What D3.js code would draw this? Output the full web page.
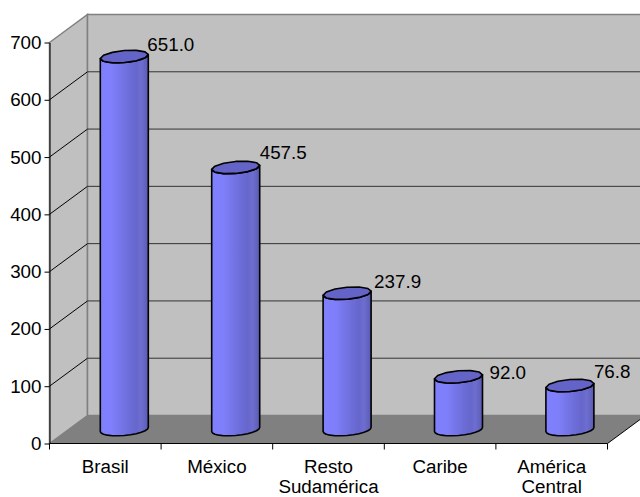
<!DOCTYPE html>
<html>
<head>
<meta charset="utf-8">
<script src="https://cdn.jsdelivr.net/npm/d3@7"></script>
<style>
  body { margin: 0; background: #fff; }
  text { font-family: "Liberation Sans", Arial, sans-serif; fill: #000; }
</style>
</head>
<body>
<svg id="chart" width="640" height="497"></svg>
<script>
const categories = [['Brasil'], ['México'], ['Resto', 'Sudamérica'], ['Caribe'], ['América', 'Central']]
const values = [651.0, 457.5, 237.9, 92.0, 76.8]
const valueLabels = ['651.0', '457.5', '237.9', '92.0', '76.8']
const yTicks = [0, 100, 200, 300, 400, 500, 600, 700]

const svg = d3.select('#chart')

const plotLeft = 49.5, plotRight = 607.5, plotBottom = 443.5, plotTop = 42.5
const depthX = 38, depthY = 28
const fontSize = 18.8

const x = d3.scaleBand().domain(d3.range(categories.length)).range([plotLeft, plotRight])
const y = d3.scaleLinear().domain([0, 700]).range([plotBottom, plotTop])

const grad = svg.append('defs').append('linearGradient').attr('id', 'barFill')
const stops = [[0, '#8080ff'], [0.25, '#7f7ffb'], [0.5, '#7272e2'], [0.75, '#6666cc'], [0.85, '#6e6ed0'], [1, '#5a5ab4']]
stops.forEach(s => grad.append('stop').attr('offset', s[0]).attr('stop-color', s[1]))

const poly = pts => 'M' + pts.map(p => p.join(',')).join('L') + 'Z'

// walls and floor
svg.append('path')
  .attr('d', poly([[plotLeft, plotTop], [plotLeft + depthX, plotTop - depthY], [plotLeft + depthX, plotBottom - depthY], [plotLeft, plotBottom]]))
  .attr('fill', '#c0c0c0').attr('stroke', '#808080').attr('stroke-width', 1.5)
svg.append('path')
  .attr('d', poly([[plotLeft + depthX, plotTop - depthY], [660, plotTop - depthY], [660, plotBottom - depthY], [plotLeft + depthX, plotBottom - depthY]]))
  .attr('fill', '#c0c0c0').attr('stroke', '#808080').attr('stroke-width', 1.5)
svg.append('path')
  .attr('d', poly([[plotLeft, plotBottom], [plotLeft + depthX, plotBottom - depthY], [plotRight + depthX, plotBottom - depthY], [plotRight, plotBottom]]))
  .attr('fill', '#808080')
svg.append('line')
  .attr('x1', plotRight).attr('y1', plotBottom).attr('x2', plotRight + depthX).attr('y2', plotBottom - depthY)
  .attr('stroke', '#000')

// gridlines
const grid = yTicks.slice(1, -1)
svg.selectAll('.gridSide').data(grid).enter().append('line')
  .attr('x1', plotLeft).attr('y1', d => y(d))
  .attr('x2', plotLeft + depthX).attr('y2', d => y(d) - depthY)
  .attr('stroke', '#000')
svg.selectAll('.gridBack').data(grid).enter().append('line')
  .attr('x1', plotLeft + depthX).attr('y1', d => y(d) - depthY)
  .attr('x2', 640).attr('y2', d => y(d) - depthY)
  .attr('stroke', '#333')

// axes
const yAxis = svg.append('g').attr('transform', `translate(${plotLeft},0)`)
  .call(d3.axisLeft(y).tickValues(yTicks).tickSize(5).tickPadding(3).tickSizeOuter(0))
yAxis.selectAll('text').attr('font-size', fontSize).style('font-family', '"Liberation Sans", Arial, sans-serif')
yAxis.selectAll('line, path').attr('stroke', '#000')

const xAxis = svg.append('g').attr('transform', `translate(0,${plotBottom})`)
xAxis.append('line').attr('x1', plotLeft).attr('x2', plotRight).attr('stroke', '#000')
xAxis.selectAll('.tick').data(d3.range(categories.length + 1)).enter().append('line')
  .attr('x1', d => plotLeft + d * x.bandwidth()).attr('x2', d => plotLeft + d * x.bandwidth())
  .attr('y1', 0).attr('y2', 6).attr('stroke', '#000')

// bars
const rx = 24, ry = 6, tilt = 2
const ringPoint = (cx, cy, t) => [cx + rx * Math.cos(t), cy + ry * Math.sin(t) - tilt * Math.cos(t)]
const ring = (cx, cy, from, to) => d3.range(0, 13).map(i => ringPoint(cx, cy, from + (to - from) * i / 12))
const labelOffset = [[23, -12], [24, -14], [27, -11], [31, -4], [24, -13.5]]

categories.forEach((c, i) => {
  const cx = x(i) + x.bandwidth() / 2 + depthX / 2 - 0.2 * i
  const base = plotBottom - depthY / 2
  const topY = y(values[i]) - depthY / 2
  const body = ring(cx, base, 0, Math.PI).concat(ring(cx, topY, Math.PI, 0))
  svg.append('path').attr('d', poly(body))
    .attr('fill', 'url(#barFill)').attr('stroke', '#000').attr('stroke-width', 1.6).attr('stroke-linejoin', 'round')
  svg.append('path').attr('d', poly(ring(cx, topY, 0, Math.PI * 2)))
    .attr('fill', '#6464c8').attr('stroke', '#000').attr('stroke-width', 1.6).attr('stroke-linejoin', 'round')

  svg.append('text')
    .attr('x', cx + labelOffset[i][0]).attr('y', topY + labelOffset[i][1] + 6)
    .attr('font-size', fontSize)
    .text(valueLabels[i])

  const label = svg.append('text')
    .attr('text-anchor', 'middle').attr('font-size', fontSize)
  c.forEach((line, j) => {
    label.append('tspan')
      .attr('x', x(i) + x.bandwidth() / 2).attr('y', plotBottom + 29 + j * 20.5)
      .text(line)
  })
})
</script>
</body>
</html>
